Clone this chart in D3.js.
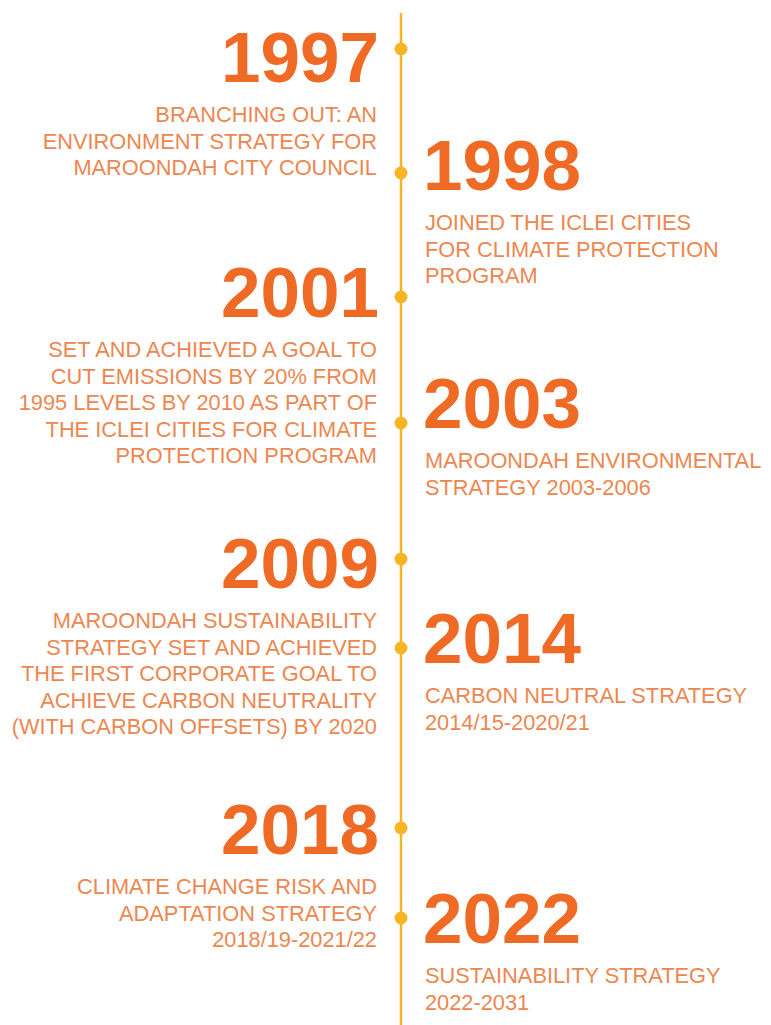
<!DOCTYPE html>
<html>
<head>
<meta charset="utf-8">
<script src="https://cdn.jsdelivr.net/npm/d3@7"></script>
<style>
  html, body { margin: 0; padding: 0; background: #ffffff; }
  svg { display: block; }
</style>
</head>
<body>
<div id="timeline"></div>
<script>
// chart data
let years = ["1997", "1998", "2001", "2003", "2009", "2014", "2018", "2022"];
let sides = ["left", "right", "left", "right", "left", "right", "left", "right"];
let descriptions = [
  ["BRANCHING OUT: AN", "ENVIRONMENT STRATEGY FOR", "MAROONDAH CITY COUNCIL"],
  ["JOINED THE ICLEI CITIES", "FOR CLIMATE PROTECTION", "PROGRAM"],
  ["SET AND ACHIEVED A GOAL TO", "CUT EMISSIONS BY 20% FROM", "1995 LEVELS BY 2010 AS PART OF", "THE ICLEI CITIES FOR CLIMATE", "PROTECTION PROGRAM"],
  ["MAROONDAH ENVIRONMENTAL", "STRATEGY 2003-2006"],
  ["MAROONDAH SUSTAINABILITY", "STRATEGY SET AND ACHIEVED", "THE FIRST CORPORATE GOAL TO", "ACHIEVE CARBON NEUTRALITY", "(WITH CARBON OFFSETS) BY 2020"],
  ["CARBON NEUTRAL STRATEGY", "2014/15-2020/21"],
  ["CLIMATE CHANGE RISK AND", "ADAPTATION STRATEGY", "2018/19-2021/22"],
  ["SUSTAINABILITY STRATEGY", "2022-2031"]
];

// layout: where each milestone sits on the page (dot and year baseline)
let dotY = [49, 173, 297, 423, 559, 648, 828, 918];
let yearY = [82, 190, 317, 428, 588, 663, 854, 943];

// svg size
let width = 771;
let height = 1025;
let axisX = 401;
let gap = 24;
let lineHgt = 26.5;

let yearColor = "#ee6a25";
let descColor = "#ec8750";
let lineColor = "#f7b526";

let svg = d3.select("#timeline")
  .append("svg")
  .attr("width", width)
  .attr("height", height);

let arrItems = years.map((y, i) => ({
  year: y,
  side: sides[i],
  lines: descriptions[i],
  dot: dotY[i],
  base: yearY[i]
}));

// vertical line
svg.append("line")
  .attr("x1", axisX)
  .attr("x2", axisX)
  .attr("y1", 13)
  .attr("y2", height)
  .attr("stroke", lineColor)
  .attr("stroke-width", 2.5);

// dots
svg.selectAll(".dot")
  .data(arrItems)
  .enter()
  .append("circle")
  .attr("class", "dot")
  .attr("cx", axisX)
  .attr("cy", d => d.dot)
  .attr("r", 6.5)
  .attr("fill", lineColor);

// milestone groups
let g = svg.selectAll(".item")
  .data(arrItems)
  .enter()
  .append("g")
  .attr("class", "item");

let fnX = d => d.side === "left" ? axisX - gap : axisX + gap;
let fnAnchor = d => d.side === "left" ? "end" : "start";

g.append("text")
  .attr("x", d => d.side === "left" ? fnX(d) + 2 : fnX(d) - 2)
  .attr("y", d => d.base)
  .attr("text-anchor", fnAnchor)
  .attr("font-family", "'Liberation Sans', Arial, sans-serif")
  .attr("font-weight", "bold")
  .attr("font-size", 71)
  .attr("fill", yearColor)
  .text(d => d.year);

g.each(function(d) {
  d3.select(this).selectAll(".desc")
    .data(d.lines)
    .enter()
    .append("text")
    .attr("class", "desc")
    .attr("x", fnX(d))
    .attr("y", (t, j) => d.base + 40 + j * lineHgt)
    .attr("text-anchor", fnAnchor(d))
    .attr("font-family", "'Liberation Sans', Arial, sans-serif")
    .attr("font-size", 21.8)
    .attr("fill", descColor)
    .text(t => t);
});
</script>
</body>
</html>
